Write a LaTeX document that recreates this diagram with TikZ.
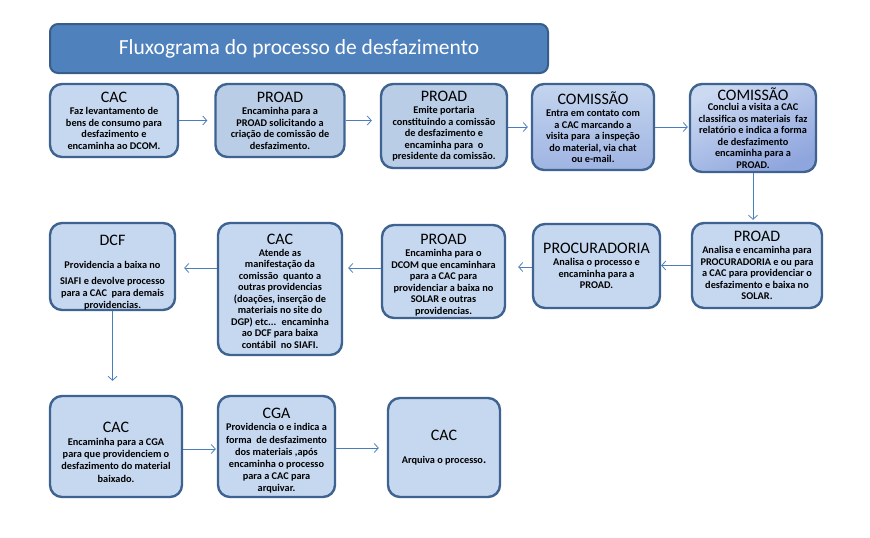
\documentclass[tikz,border=0pt]{standalone}
\usepackage{fontspec}
\setmainfont{Carlito}
\usetikzlibrary{arrows.meta,calc}
\definecolor{boxfill}{HTML}{C6D8F0}
\definecolor{boxfillB}{HTML}{BACDE6}
\definecolor{boxline}{HTML}{3F6390}
\definecolor{arrcol}{HTML}{4A7EBB}
\definecolor{titlefill}{HTML}{4F81BD}
\definecolor{titleline}{HTML}{385D8A}
\definecolor{grad1}{HTML}{C4D5EF}
\definecolor{grad2}{HTML}{9FB4E2}
\definecolor{grad3}{HTML}{CBD9F1}
\definecolor{grad4}{HTML}{8EA5DD}
\newcommand{\hd}[1]{{\fontsize{16}{18}\selectfont\mdseries #1}}
\tikzset{
  box/.style={draw=boxline, line width=2.4pt, fill=boxfill, rounded corners=12pt,
    align=center, inner sep=0pt, font=\fontsize{10.3}{11.5}\selectfont\bfseries},
  boxtext/.style={align=center, inner sep=0pt, font=\fontsize{10.3}{11.5}\selectfont\bfseries},
  wide/.style={font=\fontsize{10.3}{12.2}\selectfont\bfseries},
  darker/.style={fill=boxfillB},
  shadeA/.style={top color=grad1, bottom color=grad2},
  shadeB/.style={top color=grad3, bottom color=grad4, shading angle=25},
  arr/.style={draw=arrcol, line width=0.8pt, -{Straight Barb[length=4pt,width=9pt]}},
  titlebox/.style={draw=titleline, line width=2pt, fill=titlefill, rounded corners=8pt,
    text=white, font=\fontsize{21.5}{24}\selectfont}
}
\begin{document}
\begin{tikzpicture}[x=1pt,y=-1pt]
\useasboundingbox (0,0) rectangle (870,538);

\node[titlebox, minimum width=498pt, minimum height=49pt] (title) at (299,48.5) {Fluxograma do processo de desfazimento};

% row 1
\node[box, minimum width=128pt, minimum height=73pt] (a1) at (114,120.5)
 {\hd{CAC}\\[1pt] Faz levantamento de\\ bens de consumo para\\ desfazimento e\\ encaminha ao DCOM.};
\node[box, darker, minimum width=129pt, minimum height=73pt] (a2) at (280,120.5)
 {\hd{PROAD}\\[1pt] Encaminha para a\\ PROAD solicitando a\\ criação de comissão de\\ desfazimento.};
\node[box, darker, minimum width=126pt, minimum height=84pt] (a3) at (444,126)
 {\hd{PROAD}\\[1pt] Emite portaria\\ constituindo a comissão\\ de desfazimento e\\ encaminha para~ o\\ presidente da comissão.};
\node[box, shadeA, minimum width=122pt, minimum height=86pt] (a4) at (593,127)
 {\hd{COMISSÃO}\\[1pt] Entra em contato com\\ a CAC marcando a\\ visita para~ a inspeção\\ do material, via chat\\ ou e-mail.};
\node[box, shadeB, minimum width=126pt, minimum height=88pt] (a5) at (753,128)
 {\hd{COMISSÃO}\\[-1pt] Conclui a visita a CAC\\ classifica os materiais~ faz\\ relatório e indica a forma\\ de desfazimento\\ encaminha para a\\ PROAD.};

% row 2
\node[box, minimum width=130pt, minimum height=85pt] (b1) at (757,265.5)
 {\hd{PROAD}\\[1pt] Analisa e encaminha para\\ PROCURADORIA e ou para\\ a CAC para providenciar o\\ desfazimento e baixa no\\ SOLAR.};
\node[box, minimum width=127pt, minimum height=84pt] (b2) at (596.5,266)
 {\hd{PROCURADORIA}\\[1pt] Analisa o processo e\\ encaminha para a\\ PROAD.};
\node[box, minimum width=123pt, minimum height=93pt] (b3) at (443.5,271.5) {};
\node[boxtext] (b3t) at (443.5,275)
 {\hd{PROAD}\\[1pt] Encaminha para o\\ DCOM que encaminhara\\ para a CAC para\\ providenciar a baixa no\\ SOLAR e outras\\ providencias.};
\node[box, minimum width=124pt, minimum height=132pt] (b4) at (280,289) {};
\node[boxtext] (b4t) at (280,291.5)
 {\hd{CAC}\\[0pt] Atende as\\ manifestação da\\ comissão~ quanto a\\ outras providencias\\ (doações, inserção de\\ materiais no site do\\ DGP) etc...~ encaminha\\ ao DCF para baixa\\ contábil~ no SIAFI.};
\node[box, minimum width=125pt, minimum height=87pt] (b5) at (112.5,266.5) {};
\node[boxtext] (b5t) at (112.5,272.5)
 {\hd{DCF}\\[12pt] Providencia a baixa no\\[4pt] SIAFI e devolve processo\\[1pt] para a CAC~ para demais\\ providencias.};

% row 3
\node[box, minimum width=132pt, minimum height=101pt] (c1) at (116,446.5) {};
\node[boxtext, wide] (c1t) at (116,452)
 {\hd{CAC}\\[1pt] Encaminha para a CGA\\ para que providenciem o\\ desfazimento do material\\ baixado.};
\node[box, minimum width=117pt, minimum height=101pt] (c2) at (276.5,446.5) {};
\node[boxtext, wide] (c2t) at (276.5,451)
 {\hd{CGA}\\[0pt] Providencia o e indica a\\ forma~ de desfazimento\\ dos materiais ,após\\ encaminha o processo\\ para a CAC para\\ arquivar.};
\node[box, minimum width=112pt, minimum height=99pt] (c3) at (444,447.5)
 {\hd{CAC}\\[12pt] Arquiva o processo\textbf{\large.}};

% connector anchor points
\coordinate (pa3) at ($(a3.east)+(0,1)$);
\coordinate (pb1) at (b1.west);
\coordinate (pb2) at ($(b2.west)+(0,1)$);
\coordinate (pb3) at ($(b3.west)+(0,-3.5)$);
\coordinate (pb4) at ($(b4.west)+(0,-21)$);
\coordinate (pc1) at ($(c1.east)+(0,2.5)$);
\coordinate (pc2) at ($(c2.east)+(0,1.5)$);

% connectors
\draw[arr, shorten >=7pt] (a1.east) -- (a1.east -| a2.west);
\draw[arr, shorten >=8pt] (a2.east) -- (a2.east -| a3.west);
\draw[arr, shorten >=3pt] (pa3) -- (pa3 -| a4.west);
\draw[arr, shorten >=1pt] (a4.east) -- (a4.east -| a5.west);
\draw[arr, shorten >=2pt] (a5.south) -- (a5.south |- b1.north);
\draw[arr, shorten >=0pt] (pb1) -- (pb1 -| b2.east);
\draw[arr, shorten >=12pt] (pb2) -- (pb2 -| b3.east);
\draw[arr, shorten >=5pt] (pb3) -- (pb3 -| b4.east);
\draw[arr, shorten >=8pt] (pb4) -- (pb4 -| b5.east);
\draw[arr, shorten >=14pt] (b5.south) -- (b5.south |- c1.north);
\draw[arr, shorten >=1pt] (pc1) -- (pc1 -| c2.west);
\draw[arr, shorten >=8pt] (pc2) -- (pc2 -| c3.west);
\end{tikzpicture}
\end{document}
